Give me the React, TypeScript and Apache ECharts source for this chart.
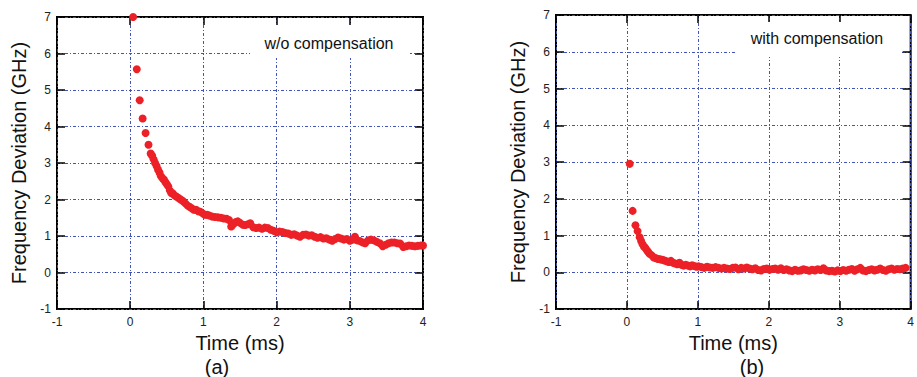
import React, { useEffect, useRef } from "react";
import * as echarts from "echarts";

// Panel (a): time (ms), frequency deviation (GHz), without compensation
const timeA = [0.04,0.09,0.13,0.17,0.21,0.25,0.28,0.30,0.32,0.34,0.36,0.38,0.40,0.42,0.44,0.46,0.48,0.50,0.52,0.54,0.56,0.58,0.60,0.63,0.66,0.69,0.72,0.75,0.78,0.81,0.84,0.87,0.90,0.93,0.96,0.99,1.02,1.05,1.08,1.12,1.16,1.20,1.24,1.28,1.32,1.35,1.38,1.41,1.44,1.47,1.50,1.54,1.57,1.61,1.64,1.68,1.72,1.76,1.80,1.84,1.88,1.92,1.96,2.00,2.04,2.08,2.12,2.16,2.20,2.24,2.28,2.32,2.36,2.40,2.44,2.48,2.52,2.56,2.60,2.64,2.68,2.72,2.76,2.80,2.84,2.88,2.92,2.96,3.00,3.04,3.07,3.10,3.14,3.18,3.21,3.25,3.29,3.33,3.37,3.41,3.45,3.49,3.53,3.57,3.61,3.65,3.69,3.73,3.77,3.81,3.85,3.89,3.93,3.97,4.00];
const devA = [7.00,5.57,4.72,4.22,3.82,3.50,3.26,3.20,3.10,3.00,2.92,2.82,2.74,2.64,2.58,2.55,2.48,2.42,2.36,2.25,2.18,2.17,2.12,2.08,2.04,2.00,1.96,1.90,1.84,1.80,1.76,1.72,1.72,1.68,1.66,1.62,1.58,1.58,1.56,1.53,1.52,1.51,1.50,1.48,1.47,1.44,1.26,1.32,1.38,1.40,1.36,1.31,1.30,1.32,1.35,1.24,1.22,1.23,1.20,1.23,1.22,1.17,1.14,1.10,1.12,1.11,1.08,1.07,1.03,1.05,1.01,0.98,1.03,1.04,1.01,1.02,0.98,0.95,0.97,0.93,0.94,0.90,0.87,0.92,0.96,0.93,0.90,0.92,0.87,0.90,0.98,0.88,0.86,0.82,0.80,0.88,0.90,0.88,0.84,0.80,0.72,0.76,0.80,0.82,0.82,0.80,0.79,0.70,0.72,0.74,0.73,0.72,0.73,0.74,0.74];

// Panel (b): with compensation
const timeB = [0.04,0.08,0.12,0.15,0.18,0.20,0.22,0.24,0.26,0.28,0.30,0.32,0.35,0.38,0.41,0.44,0.47,0.50,0.53,0.56,0.59,0.62,0.65,0.68,0.71,0.74,0.77,0.80,0.83,0.86,0.89,0.92,0.95,0.98,1.01,1.05,1.09,1.13,1.17,1.21,1.25,1.29,1.33,1.37,1.41,1.45,1.49,1.53,1.57,1.61,1.65,1.69,1.73,1.77,1.81,1.85,1.89,1.93,1.97,2.01,2.05,2.09,2.13,2.17,2.21,2.25,2.29,2.33,2.37,2.41,2.45,2.49,2.53,2.57,2.61,2.65,2.69,2.73,2.77,2.81,2.85,2.89,2.93,2.97,3.01,3.05,3.09,3.13,3.17,3.21,3.25,3.29,3.33,3.37,3.41,3.45,3.49,3.53,3.57,3.61,3.65,3.69,3.73,3.77,3.81,3.85,3.89,3.93];
const devB = [2.95,1.67,1.28,1.12,0.95,0.85,0.76,0.70,0.66,0.60,0.55,0.50,0.46,0.40,0.38,0.36,0.35,0.34,0.32,0.30,0.28,0.31,0.26,0.24,0.22,0.26,0.20,0.18,0.20,0.18,0.16,0.19,0.17,0.15,0.16,0.14,0.12,0.15,0.13,0.12,0.14,0.12,0.10,0.12,0.10,0.09,0.12,0.13,0.08,0.12,0.10,0.13,0.10,0.08,0.11,0.06,0.05,0.09,0.10,0.07,0.09,0.10,0.07,0.11,0.06,0.08,0.05,0.03,0.07,0.04,0.05,0.08,0.06,0.04,0.07,0.05,0.08,0.06,0.11,0.05,0.03,0.04,0.02,0.05,0.03,0.06,0.04,0.07,0.09,0.04,0.08,0.12,0.05,0.03,0.06,0.08,0.05,0.07,0.10,0.06,0.04,0.08,0.10,0.07,0.09,0.08,0.10,0.12];

const xTitle = "Time (ms)";
const yTitle = "Frequency Deviation (GHz)";
const labelA = "w/o compensation";
const labelB = "with compensation";
const captionA = "(a)";
const captionB = "(b)";

const FONT = "Liberation Sans, Arial, sans-serif";
const RED = "#ec2127";
const GRIDCOL = "#4353b8";

export default function App() {
  const ref = useRef<HTMLDivElement>(null);
  useEffect(() => {
    if (!ref.current) return;
    const chart = echarts.init(ref.current, undefined, { renderer: "svg" });
    const dash = [3, 2, 1, 2];
    const mkX = (gridIndex: number, main: boolean) => ({
      type: "value",
      gridIndex,
      position: main ? "bottom" : "top",
      min: -1,
      max: 4,
      interval: 1,
      name: main ? xTitle : "",
      nameLocation: "middle",
      nameGap: 21,
      nameTextStyle: { fontFamily: FONT, fontSize: 20, color: "#111" },
      axisLine: { show: false, onZero: false },
      axisTick: { show: true, inside: true, length: 8, lineStyle: { color: "#000", width: 1.5 } },
      axisLabel: { show: main, fontFamily: FONT, fontSize: 12, color: "#222", margin: 7, showMinLabel: true, showMaxLabel: true },
      splitLine: { show: main, lineStyle: { color: GRIDCOL, type: dash, width: 1 } },
    });
    const mkY = (gridIndex: number, main: boolean) => ({
      type: "value",
      gridIndex,
      position: main ? "left" : "right",
      min: -1,
      max: 7,
      interval: 1,
      name: main ? yTitle : "",
      nameLocation: "middle",
      nameGap: 28,
      nameTextStyle: { fontFamily: FONT, fontSize: 20, color: "#111" },
      axisLine: { show: false, onZero: false },
      axisTick: { show: true, inside: true, length: 8, lineStyle: { color: "#000", width: 1.5 } },
      axisLabel: { show: main, fontFamily: FONT, fontSize: 12, color: "#222", margin: 6 },
      splitLine: { show: main, lineStyle: { color: GRIDCOL, type: dash, width: 1 } },
    });
    const pairs = (t: number[], v: number[]) => t.map((x, i) => [x, v[i]]);
    chart.setOption({
      animation: false,
      backgroundColor: "#fff",
      grid: [
        { left: 57, top: 17, width: 366, height: 292, show: true, borderColor: "#000", borderWidth: 2, backgroundColor: "transparent" },
        { left: 556, top: 15, width: 367, height: 294, show: true, borderColor: "#000", borderWidth: 2, backgroundColor: "transparent" },
      ],
      xAxis: [mkX(0, true), mkX(0, false), mkX(1, true), mkX(1, false)],
      yAxis: [mkY(0, true), mkY(0, false), mkY(1, true), mkY(1, false)],
      series: [
        {
          type: "scatter",
          xAxisIndex: 0,
          yAxisIndex: 0,
          data: pairs(timeA, devA),
          symbolSize: 8,
          itemStyle: { color: RED, opacity: 1 },
          z: 5,
        },
        {
          type: "scatter",
          xAxisIndex: 2,
          yAxisIndex: 2,
          data: pairs(timeB, devB),
          symbolSize: 8,
          itemStyle: { color: RED, opacity: 1 },
          z: 5,
        },
      ],
      graphic: [
        { type: "rect", z: 50, shape: { x: 250, y: 25, width: 160, height: 33 }, style: { fill: "#fff" } },
        { type: "text", z: 51, x: 329, y: 43, style: { text: labelA, fontFamily: FONT, fontSize: 16, fill: "#111", align: "center", verticalAlign: "middle" } },
        { type: "rect", z: 50, shape: { x: 736, y: 22, width: 166, height: 35 }, style: { fill: "#fff" } },
        { type: "text", z: 51, x: 817, y: 38, style: { text: labelB, fontFamily: FONT, fontSize: 16, fill: "#111", align: "center", verticalAlign: "middle" } },
        { type: "text", z: 51, x: 217, y: 367, style: { text: captionA, fontFamily: FONT, fontSize: 20, fill: "#111", align: "center", verticalAlign: "middle" } },
        { type: "text", z: 51, x: 752, y: 367, style: { text: captionB, fontFamily: FONT, fontSize: 20, fill: "#111", align: "center", verticalAlign: "middle" } },
      ],
    });
    return () => chart.dispose();
  }, []);
  return <div ref={ref} style={{ position: "absolute", left: 0, top: 0, width: 917, height: 377 }} />;
}
